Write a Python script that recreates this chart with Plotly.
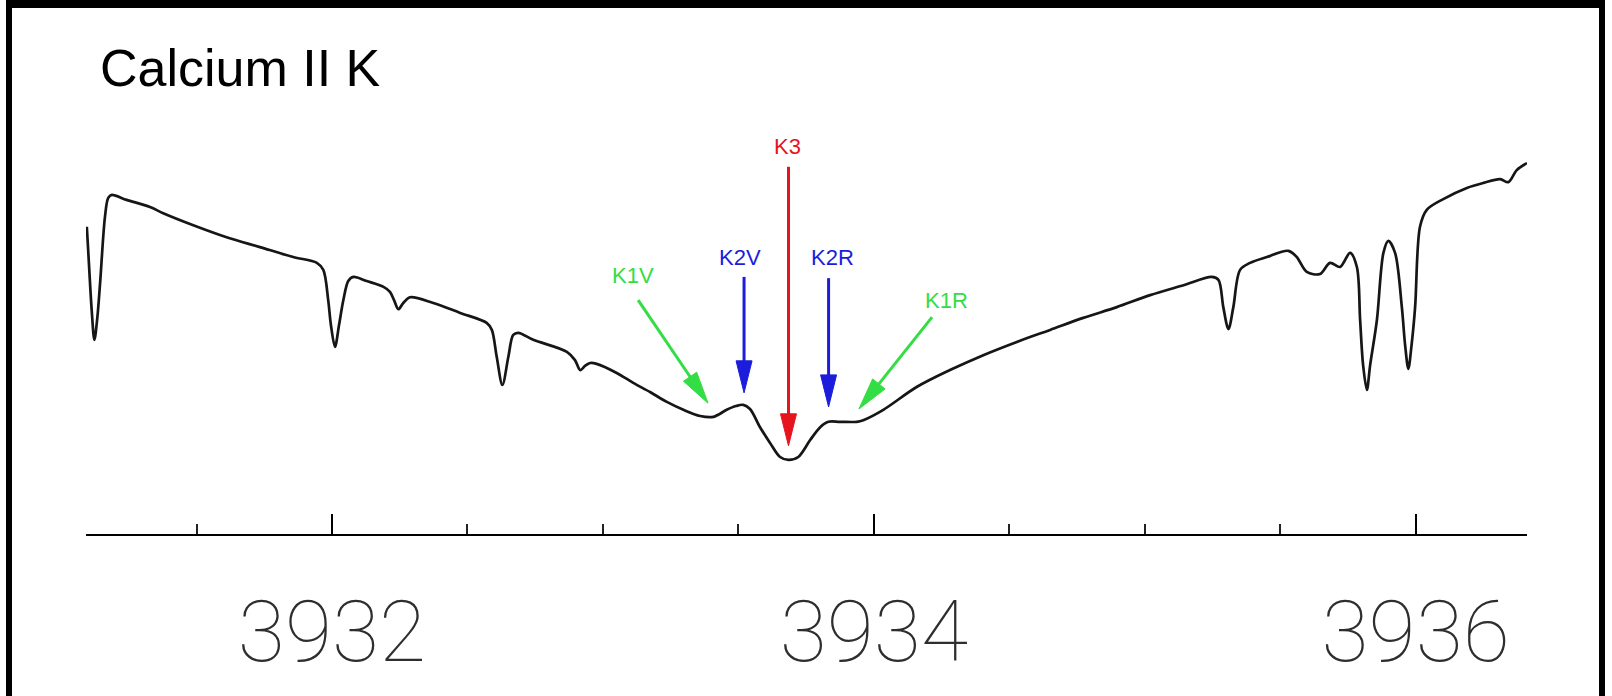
import math
import plotly.graph_objects as go

# Calcium II K line profile: wavelength (Angstrom) and relative intensity
wavelength = [
    3931.095, 3931.100, 3931.113, 3931.123, 3931.134, 3931.144, 3931.162, 3931.174,
    3931.187, 3931.242, 3931.328, 3931.377, 3931.488, 3931.611, 3931.734, 3931.857,
    3931.944, 3931.968, 3931.986, 3931.996, 3932.011, 3932.026, 3932.042, 3932.060,
    3932.079, 3932.128, 3932.190, 3932.214, 3932.229, 3932.245, 3932.263, 3932.288,
    3932.374, 3932.473, 3932.571, 3932.590, 3932.608, 3932.629, 3932.651, 3932.669,
    3932.688, 3932.743, 3932.867, 3932.897, 3932.916, 3932.934, 3932.953, 3932.977,
    3933.051, 3933.112, 3933.174, 3933.236, 3933.297, 3933.359, 3933.408, 3933.457,
    3933.491, 3933.518, 3933.543, 3933.580, 3933.617, 3933.654, 3933.685, 3933.721,
    3933.765, 3933.802, 3933.832, 3933.875, 3933.937, 3933.961, 3934.035, 3934.158,
    3934.281, 3934.404, 3934.528, 3934.651, 3934.773, 3934.897, 3935.020, 3935.143,
    3935.247, 3935.272, 3935.290, 3935.309, 3935.327, 3935.352, 3935.389, 3935.451,
    3935.530, 3935.561, 3935.598, 3935.647, 3935.684, 3935.721, 3935.758, 3935.783,
    3935.795, 3935.806, 3935.820, 3935.832, 3935.857, 3935.881, 3935.899, 3935.924,
    3935.949, 3935.961, 3935.973, 3935.985, 3935.998, 3936.016, 3936.041, 3936.102,
    3936.189, 3936.250, 3936.312, 3936.342, 3936.373, 3936.411,
]
intensity = [
    0.742, 0.686, 0.541, 0.469, 0.524, 0.606, 0.766, 0.812,
    0.819, 0.807, 0.790, 0.775, 0.746, 0.717, 0.693, 0.669,
    0.655, 0.638, 0.565, 0.505, 0.452, 0.505, 0.565, 0.611,
    0.621, 0.611, 0.597, 0.585, 0.565, 0.543, 0.558, 0.572,
    0.558, 0.534, 0.510, 0.493, 0.428, 0.360, 0.428, 0.481,
    0.486, 0.469, 0.440, 0.420, 0.396, 0.406, 0.413, 0.411,
    0.389, 0.365, 0.343, 0.319, 0.300, 0.285, 0.283, 0.300,
    0.309, 0.312, 0.302, 0.258, 0.220, 0.186, 0.179, 0.186,
    0.227, 0.258, 0.271, 0.271, 0.271, 0.275, 0.300, 0.355,
    0.396, 0.432, 0.464, 0.493, 0.522, 0.548, 0.577, 0.601,
    0.621, 0.614, 0.548, 0.495, 0.548, 0.638, 0.655, 0.669,
    0.684, 0.669, 0.633, 0.628, 0.655, 0.645, 0.679, 0.645,
    0.517, 0.408, 0.348, 0.408, 0.517, 0.679, 0.708, 0.679,
    0.548, 0.457, 0.399, 0.457, 0.548, 0.742, 0.783, 0.809,
    0.836, 0.848, 0.857, 0.850, 0.879, 0.896,
]

tick_values = [3932, 3934, 3936]
tick_labels = ["3932", "3934", "3936"]

# Features of the line core, each with a pointer from its label to the profile
feature_names = ["K1V", "K2V", "K3", "K2R", "K1R"]
feature_colors = ["#33dd44", "#1c1cdc", "#e6141e", "#1c1cdc", "#33dd44"]
tip_wavelength = [3933.388, 3933.521, 3933.685, 3933.833, 3933.945]
tip_intensity = [0.316, 0.341, 0.213, 0.307, 0.302]
tail_wavelength = [3933.130, 3933.521, 3933.685, 3933.833, 3934.215]
tail_intensity = [0.565, 0.621, 0.887, 0.618, 0.524]
label_wavelength = [3933.111, 3933.506, 3933.683, 3933.846, 3934.270]
label_intensity = [0.624, 0.669, 0.935, 0.669, 0.565]

TITLE = "Calcium II K"

# page geometry
W, H = 1612, 696
M_L, M_R, M_T, M_B = 86, 85, 120, 162
PW, PH = W - M_L - M_R, H - M_T - M_B
X_RANGE = [3931.092, 3936.411]
Y_RANGE = [0.0, 1.0]
SX = PW / (X_RANGE[1] - X_RANGE[0])   # px per Angstrom
SY = PH / (Y_RANGE[1] - Y_RANGE[0])   # px per intensity unit
HEAD_LEN, HEAD_HALF, SHAFT_W = 32, 8, 3


def paper_x(px):
    return (px - M_L) / PW


def paper_y(py):
    return (H - M_B - py) / PH


fig = go.Figure()
fig.add_trace(go.Scatter(
    x=wavelength, y=intensity, mode="lines",
    line=dict(color="#161616", width=2.7, shape="spline", smoothing=0.9),
    hoverinfo="skip", showlegend=False,
))


def pointer_shapes(x0, y0, x1, y1, color):
    dxp, dyp = (x1 - x0) * SX, (y1 - y0) * SY
    length = math.hypot(dxp, dyp)
    ux, uy = dxp / length, dyp / length
    bx, by = x1 - ux * HEAD_LEN / SX, y1 - uy * HEAD_LEN / SY
    sx, sy = x1 - ux * (HEAD_LEN - 4) / SX, y1 - uy * (HEAD_LEN - 4) / SY
    lx, ly = bx - uy * HEAD_HALF / SX, by + ux * HEAD_HALF / SY
    rx, ry = bx + uy * HEAD_HALF / SX, by - ux * HEAD_HALF / SY
    shaft = dict(type="line", xref="x", yref="y", x0=x0, y0=y0, x1=sx, y1=sy,
                 line=dict(color=color, width=SHAFT_W))
    head = dict(type="path", xref="x", yref="y",
                path=f"M{lx},{ly} L{x1},{y1} L{rx},{ry} Z",
                fillcolor=color, line=dict(color=color, width=1))
    return [shaft, head]


shapes = []
for i, name in enumerate(feature_names):
    shapes += pointer_shapes(tail_wavelength[i], tail_intensity[i],
                             tip_wavelength[i], tip_intensity[i], feature_colors[i])
    fig.add_annotation(
        x=label_wavelength[i], y=label_intensity[i], xref="x", yref="y",
        text=name, showarrow=False, xanchor="center", yanchor="middle",
        font=dict(family="Liberation Sans, Arial, sans-serif", size=22,
                  color=feature_colors[i]),
    )

# black frame around the page (open at the bottom)
frame = "#000000"
shapes += [
    dict(type="rect", xref="paper", yref="paper",
         x0=paper_x(6), x1=paper_x(12), y0=paper_y(H), y1=paper_y(0),
         fillcolor=frame, line=dict(width=0), layer="above"),
    dict(type="rect", xref="paper", yref="paper",
         x0=paper_x(1599), x1=paper_x(1605), y0=paper_y(H), y1=paper_y(0),
         fillcolor=frame, line=dict(width=0), layer="above"),
    dict(type="rect", xref="paper", yref="paper",
         x0=paper_x(6), x1=paper_x(1605), y0=paper_y(8), y1=paper_y(0),
         fillcolor=frame, line=dict(width=0), layer="above"),
]

fig.add_annotation(
    x=paper_x(98), y=paper_y(37), xref="paper", yref="paper",
    text=TITLE, showarrow=False, xanchor="left", yanchor="top",
    font=dict(family="Liberation Sans, Arial, sans-serif", size=52, color="#000000"),
)

fig.update_layout(
    width=W, height=H,
    margin=dict(l=M_L, r=M_R, t=M_T, b=M_B, pad=0),
    paper_bgcolor="#ffffff", plot_bgcolor="#ffffff",
    shapes=shapes,
    showlegend=False,
)
fig.update_xaxes(
    range=X_RANGE, showgrid=False, zeroline=False,
    showline=True, linecolor="#000000", linewidth=2,
    tickmode="array", tickvals=tick_values, ticktext=tick_labels,
    ticks="inside", ticklen=20, tickwidth=1.5, tickcolor="#000000",
    ticklabelstandoff=22,
    tickfont=dict(family="Roboto, Inter, sans-serif", size=86, weight=100, color="#2e2e2e"),
    minor=dict(tickmode="linear", tick0=3931.5, dtick=0.5, ticks="inside",
               ticklen=10, tickwidth=1.5, tickcolor="#222222"),
)
fig.update_yaxes(range=Y_RANGE, visible=False)

fig.write_html("out.html")
